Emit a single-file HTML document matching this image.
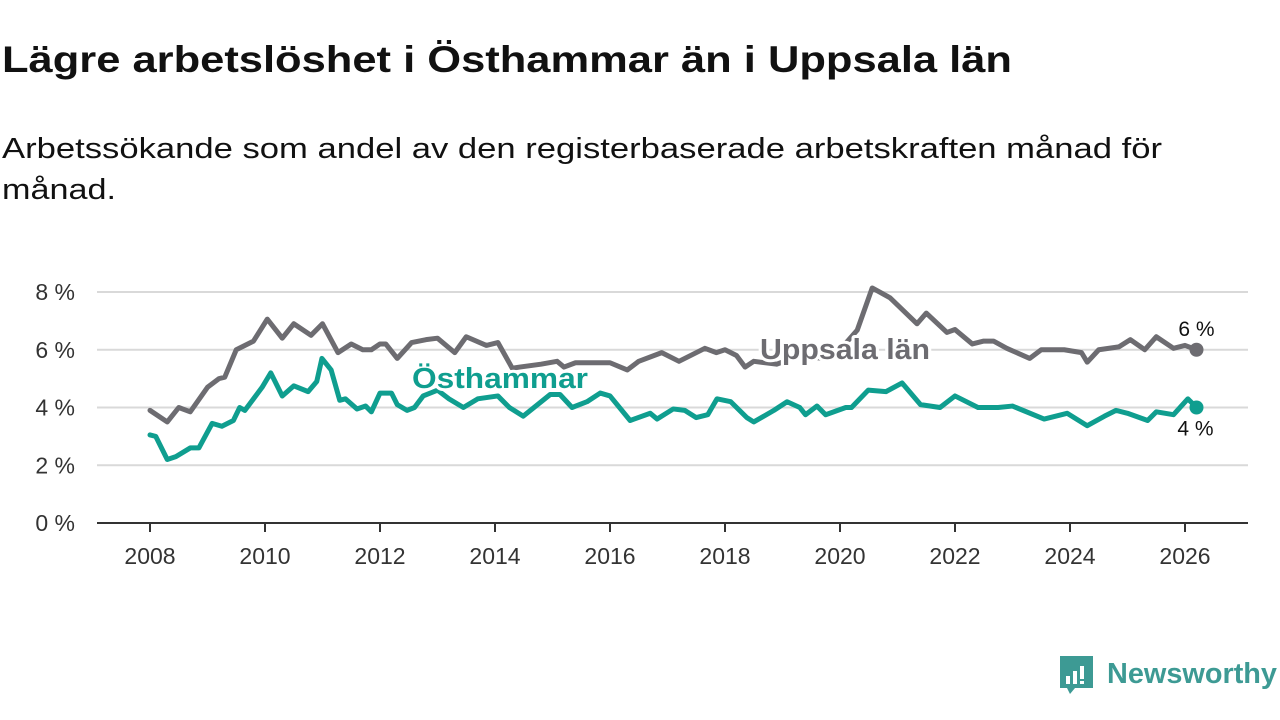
<!DOCTYPE html>
<html><head><meta charset="utf-8"><style>
html,body{margin:0;padding:0;background:#fff;width:1280px;height:720px;overflow:hidden}
svg{display:block;font-family:"Liberation Sans",sans-serif}
</style></head><body>
<svg id="chart" width="1280" height="720" viewBox="0 0 1280 720">
<text x="2" y="72" font-size="37" font-weight="bold" fill="#111" textLength="1010" lengthAdjust="spacingAndGlyphs">Lägre arbetslöshet i Östhammar än i Uppsala län</text>
<text x="2" y="158" font-size="29" fill="#111" textLength="1160" lengthAdjust="spacingAndGlyphs">Arbetssökande som andel av den registerbaserade arbetskraften månad för</text>
<text x="2" y="199" font-size="29" fill="#111" textLength="114" lengthAdjust="spacingAndGlyphs">månad.</text>
<g id="grid"></g><g id="xaxis"></g><g id="lines"></g><g id="labels"></g>
<g>
<path d="M1060 656 h33 v32 h-18 l-5 6 l-3 -6 h-7 z" fill="#3d9a94"/>
<rect x="1066" y="676" width="4" height="8" fill="#fff"/><rect x="1073" y="671" width="4" height="13" fill="#fff"/><rect x="1080" y="666" width="4" height="13" fill="#fff"/><rect x="1080" y="681" width="4" height="3" fill="#fff"/>
<text x="1107" y="683" font-size="29" font-weight="bold" fill="#3d9a94" textLength="170" lengthAdjust="spacingAndGlyphs">Newsworthy</text>
</g>
</svg>
<script>
const yTicks=[0,2,4,6,8];
const xTicks=[2008,2010,2012,2014,2016,2018,2020,2022,2024,2026];
const uppDates=[2008.0,2008.3,2008.5,2008.7,2009.0,2009.2,2009.3,2009.5,2009.8,2010.04,2010.3,2010.5,2010.8,2011.0,2011.27,2011.5,2011.7,2011.85,2012.0,2012.1,2012.3,2012.55,2012.8,2013.0,2013.3,2013.5,2013.85,2014.05,2014.3,2014.43,2014.8,2015.08,2015.2,2015.4,2016.0,2016.3,2016.5,2016.9,2017.2,2017.65,2017.85,2018.0,2018.2,2018.35,2018.5,2018.9,2019.3,2019.7,2020.0,2020.3,2020.56,2020.87,2021.34,2021.5,2021.86,2022.0,2022.3,2022.5,2022.67,2022.9,2023.3,2023.5,2023.9,2024.2,2024.3,2024.5,2024.85,2025.05,2025.3,2025.5,2025.8,2026.0,2026.2];
const uppValues=[3.9,3.5,4.0,3.85,4.7,5.0,5.05,6.0,6.3,7.06,6.4,6.9,6.5,6.9,5.9,6.2,6.0,6.0,6.2,6.2,5.7,6.25,6.35,6.4,5.9,6.45,6.15,6.25,5.36,5.4,5.5,5.6,5.4,5.55,5.55,5.3,5.6,5.9,5.6,6.05,5.9,6.0,5.8,5.4,5.6,5.5,5.8,5.7,6.0,6.68,8.14,7.8,6.9,7.27,6.6,6.7,6.2,6.3,6.3,6.05,5.7,6.0,6.0,5.9,5.57,6.0,6.1,6.35,6.0,6.45,6.05,6.15,6.0];
const ostDates=[2008.0,2008.1,2008.3,2008.45,2008.7,2008.85,2009.08,2009.25,2009.45,2009.56,2009.65,2009.95,2010.1,2010.3,2010.5,2010.75,2010.9,2010.99,2011.15,2011.3,2011.4,2011.6,2011.75,2011.85,2012.0,2012.2,2012.3,2012.47,2012.6,2012.75,2013.0,2013.2,2013.45,2013.7,2014.05,2014.25,2014.49,2014.96,2015.13,2015.34,2015.6,2015.83,2016.0,2016.35,2016.7,2016.82,2017.1,2017.3,2017.5,2017.7,2017.86,2018.1,2018.38,2018.5,2018.85,2019.08,2019.3,2019.4,2019.6,2019.75,2020.1,2020.2,2020.49,2020.8,2021.08,2021.4,2021.74,2022.0,2022.4,2022.75,2023.0,2023.55,2023.95,2024.3,2024.6,2024.8,2025.0,2025.35,2025.5,2025.8,2026.05,2026.2];
const ostValues=[3.05,3.0,2.2,2.3,2.6,2.6,3.45,3.35,3.55,4.0,3.9,4.7,5.2,4.4,4.75,4.55,4.9,5.7,5.3,4.25,4.3,3.95,4.05,3.85,4.5,4.5,4.1,3.9,4.0,4.4,4.6,4.3,4.0,4.3,4.4,4.0,3.7,4.45,4.45,4.0,4.2,4.5,4.4,3.55,3.8,3.6,3.95,3.9,3.65,3.75,4.3,4.2,3.65,3.5,3.9,4.2,4.0,3.75,4.05,3.75,4.0,4.0,4.6,4.55,4.85,4.1,4.0,4.4,4.0,4.0,4.05,3.6,3.8,3.37,3.7,3.9,3.8,3.55,3.85,3.75,4.3,4.0];
const NS='http://www.w3.org/2000/svg';
const X=d=>150+(d-2008)*57.5, Y=v=>523-v*28.875;
function mk(t,a,p){const e=document.createElementNS(NS,t);for(const k in a)e.setAttribute(k,a[k]);p.appendChild(e);return e;}
const grid=document.getElementById('grid'),xa=document.getElementById('xaxis'),ln=document.getElementById('lines'),lb=document.getElementById('labels');
yTicks.forEach(v=>{
 if(v>0){const g=mk('line',{x1:97,x2:1248,y1:Y(v),y2:Y(v),stroke:'#d9d9d9','stroke-width':2},grid);
 
 }
 const t=mk('text',{x:75,y:Y(v)+8,'font-size':23,fill:'#333','text-anchor':'end'},grid);t.textContent=v+' %';
 
 
});
const ax=mk('line',{x1:97,x2:1248,y1:523,y2:523,stroke:'#333','stroke-width':2},xa);


xTicks.forEach(d=>{
 mk('line',{x1:X(d),x2:X(d),y1:523,y2:532,stroke:'#333','stroke-width':2},xa);
 const t=mk('text',{x:X(d),y:564,'font-size':23,fill:'#333','text-anchor':'middle'},xa);t.textContent=d;
 
 
});
function series(ds,vs,col,name){
 const p=mk('polyline',{points:ds.map((d,i)=>X(d)+','+Y(vs[i])).join(' '),fill:'none',stroke:col,'stroke-width':5,'stroke-linejoin':'round','stroke-linecap':'round'},ln);
 
 
 const n=ds.length-1;
 const c=mk('circle',{cx:X(ds[n]),cy:Y(vs[n]),r:7,fill:col},ln);
 
 
 return [X(ds[n]),Y(vs[n])];
}
const pu=series(uppDates,uppValues,'#6d6c71','uppsala');
const po=series(ostDates,ostValues,'#0f9e8f','osthammar');
function label(x,y,txt,col,name,size,bold,anchor,len){
 const a={x:x,y:y,'font-size':size,'font-weight':bold?'bold':'normal',fill:col,'text-anchor':anchor||'start',stroke:'#fff','stroke-width':6,'paint-order':'stroke','stroke-linejoin':'round'};
 if(len){a.textLength=len;a.lengthAdjust='spacingAndGlyphs';}
 const t=mk('text',a,lb);
 t.textContent=txt;
 
 
}
label(760,359,'Uppsala län','#6d6c71','uppsala-series-label',29,true,'start',170);
label(412,388,'Östhammar','#0f9e8f','osthammar-series-label',29,true,'start',176);
label(pu[0],pu[1]-14,'6 %','#111','uppsala-end-value',21,false,'middle');
label(po[0]-1,po[1]+28,'4 %','#111','osthammar-end-value',21,false,'middle');
</script>
</body></html>
